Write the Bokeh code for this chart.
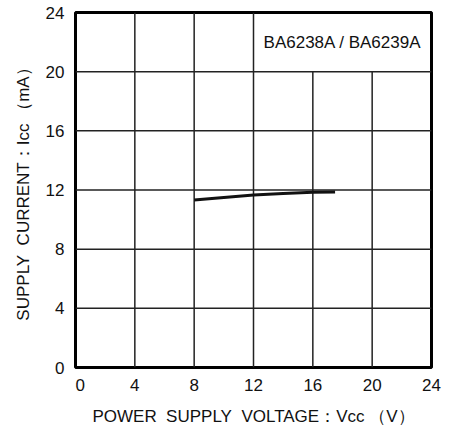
from bokeh.plotting import figure
from bokeh.models import Range1d, FixedTicker, Label
from bokeh.embed import file_html
from bokeh.resources import INLINE

# Data
vcc = [8, 10, 12, 14, 16, 17.5]
icc = [11.33, 11.5, 11.66, 11.76, 11.84, 11.86]

x_ticks = [0, 4, 8, 12, 16, 20, 24]
y_ticks = [0, 4, 8, 12, 16, 20, 24]

grid_v_x = [4, 8, 12, 16, 20]
grid_v_top = [24, 24, 24, 20, 20]
grid_h_y = [4, 8, 12, 16, 20]

NB = "\u00a0"
x_title = "POWER" + NB * 2 + "SUPPLY" + NB * 2 + "VOLTAGE\uff1aVcc" + NB + "\uff08V\uff09"
y_title = "SUPPLY" + NB * 2 + "CURRENT\uff1aIcc" + NB + "\uff08mA\uff09"
device_label = "BA6238A / BA6239A"

FONT = "Liberation Sans"
INK = "#111111"

p = figure(frame_width=356, frame_height=355, output_backend="svg", toolbar_location=None,
           x_range=Range1d(0, 24), y_range=Range1d(0, 24),
           min_border_left=75, min_border_right=18, min_border_top=12, min_border_bottom=50)

p.xgrid.visible = False
p.ygrid.visible = False
p.outline_line_color = "black"
p.outline_line_width = 3
p.outline_line_alpha = 1.0
p.background_fill_color = "white"
p.border_fill_color = "white"

# grid
p.segment(x0=grid_v_x, y0=[0] * len(grid_v_x), x1=grid_v_x, y1=grid_v_top,
          line_color="#222222", line_width=1.5)
p.segment(x0=[0] * len(grid_h_y), y0=grid_h_y, x1=[24] * len(grid_h_y), y1=grid_h_y,
          line_color="#222222", line_width=1.5)

# curve
p.line(vcc, icc, line_color="#111111", line_width=3)

# axes
for ax, ticks in ((p.xaxis[0], x_ticks), (p.yaxis[0], y_ticks)):
    ax.ticker = FixedTicker(ticks=ticks)
    ax.axis_line_color = None
    ax.major_tick_line_color = None
    ax.minor_tick_line_color = None
    ax.major_label_text_font = FONT
    ax.major_label_text_font_size = "17px"
    ax.major_label_text_color = INK
    ax.axis_label_text_font = FONT
    ax.axis_label_text_font_size = "17px"
    ax.axis_label_text_font_style = "normal"
    ax.axis_label_text_color = INK

p.xaxis.major_label_overrides = {0: NB * 2 + "0"}
p.xaxis.axis_label = x_title
p.yaxis.axis_label = y_title
p.xaxis.major_label_standoff = 2
p.yaxis.major_label_standoff = 5
p.xaxis.axis_label_standoff = 9
p.yaxis.axis_label_standoff = 10

p.add_layout(Label(x=18, y=22, text=device_label, text_align="center",
                   text_baseline="middle", text_font=FONT, text_font_size="17px",
                   text_color=INK))

open("out.html", "w").write(file_html(p, INLINE))
